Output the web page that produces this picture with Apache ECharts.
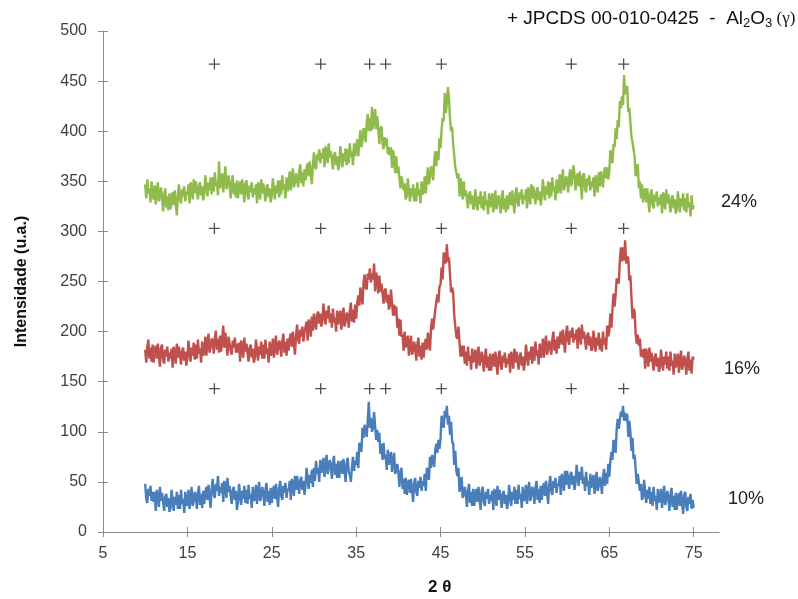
<!DOCTYPE html>
<html>
<head>
<meta charset="utf-8">
<script src="https://cdn.jsdelivr.net/npm/echarts@6/dist/echarts.min.js"></script>
<style>html,body{margin:0;padding:0;background:#fff;}#chart{width:798px;height:599px;}</style>
</head>
<body>
<div id="chart"></div>
<script>
// 2θ sampling of the patterns (degrees): 10.000, 10.125, ... 75.000
const angleStart = 10;
const angleStep = 0.125;

// x axis ticks
const xTicks = [5, 15, 25, 35, 45, 55, 65, 75];

// Intensity (u.a.), one row of 8 samples per degree (10 ... 74), then 75
const series24 = [
347,333,352,338,343,329,350,336, 332,346,327,339,349,330,335,344, 333,320,336,343,324,335,321,338,
322,334,339,326,341,329,316,337, 347,332,328,342,335,345,330,339, 337,347,328,349,344,332,352,338,
350,341,332,346,349,336,345,331, 338,356,345,335,349,341,354,337, 354,340,359,345,350,336,370,343,
344,358,339,351,365,342,347,356, 346,333,349,356,337,348,334,351, 333,345,350,337,352,340,329,348,
351,336,332,346,339,349,334,343, 337,347,328,349,344,332,352,338, 348,339,330,344,347,334,343,329,
335,353,342,332,346,338,351,334, 351,337,356,342,347,333,354,340, 346,360,341,353,363,344,349,358,
357,344,360,367,348,359,345,362, 351,363,368,355,370,358,347,366, 379,365,362,377,371,382,368,378,
373,383,364,385,380,368,388,374, 380,371,362,376,379,366,375,361, 367,385,374,364,378,370,383,366,
382,368,388,374,380,366,388,375, 376,392,375,389,401,384,391,403, 400,389,408,417,400,413,400,424,
402,413,422,402,415,401,387,403, 405,388,382,394,385,393,377,384, 376,384,363,381,373,358,375,358,
365,354,343,355,356,341,348,332, 336,353,341,330,343,335,347,330, 343,330,349,336,342,328,350,337,
340,355,338,352,364,347,354,365, 361,351,370,380,365,380,371,393, 383,401,413,410,438,418,428,444,
433,412,400,404,387,387,364,365, 353,358,335,353,346,332,350,335, 341,332,323,337,340,327,336,322,
324,342,331,321,335,327,340,323, 335,321,340,326,331,317,338,324, 324,338,319,331,341,322,327,336,
331,318,334,341,322,333,319,336, 322,334,339,326,341,329,318,337, 344,329,325,339,332,342,327,336,
332,342,323,344,339,327,347,333, 345,336,327,341,344,331,340,326, 334,352,341,331,345,337,350,333,
349,335,354,340,345,331,352,338, 343,357,338,350,362,341,346,355, 352,339,355,362,345,354,366,357,
341,353,358,345,360,348,332,356, 358,343,339,353,346,356,341,350, 344,354,335,356,351,339,359,345,
360,352,344,359,364,353,364,352, 360,381,374,368,387,384,403,392, 411,404,430,423,435,426,456,437,
436,445,419,423,423,394,389,389, 375,355,365,367,343,350,333,347, 329,339,343,329,343,330,319,337,
342,327,323,337,330,340,325,334, 327,337,318,339,334,322,342,328, 337,328,319,333,336,323,332,318,
322,340,329,319,333,325,338,321, 333,319,338,324,329,315,336,322,
326
];
const series16 = [
182,169,185,192,173,184,170,187, 169,181,186,173,188,176,165,184, 187,172,168,182,175,185,170,179,
173,183,164,185,180,168,188,174, 185,176,167,181,184,171,180,166, 173,191,180,170,184,176,189,172,
187,173,192,178,183,169,190,176, 181,195,176,188,198,179,184,193, 191,178,194,201,182,193,179,196,
180,192,206,184,199,187,176,195, 196,181,177,191,184,194,179,188, 179,189,170,191,186,174,194,180,
188,179,170,184,187,174,183,169, 174,192,181,171,185,177,190,173, 187,173,192,178,183,169,190,176,
179,193,174,186,196,177,182,191, 188,175,191,198,179,190,176,193, 181,193,198,185,200,188,177,196,
207,192,188,202,195,205,190,199, 200,210,191,212,207,195,215,201, 218,210,202,217,220,208,218,205,
210,228,217,207,221,213,226,209, 218,204,223,209,214,200,221,207, 207,221,202,214,224,205,210,219,
216,204,221,229,210,222,209,227, 213,228,236,226,244,235,227,249, 257,244,242,258,252,263,249,258,
252,268,240,259,252,238,256,240, 248,238,228,241,243,229,237,222, 226,242,229,216,227,216,225,204,
213,196,212,195,197,181,200,184, 183,196,176,187,196,177,181,190, 184,171,187,194,175,186,172,189,
174,187,193,182,199,189,181,204, 213,202,203,222,221,237,229,245, 247,264,252,279,278,268,287,270,
274,257,239,244,238,216,217,195, 193,205,189,175,186,175,186,168, 180,166,185,171,176,162,183,169,
168,182,163,175,185,166,171,180, 173,160,176,183,164,175,161,178, 161,173,178,165,180,168,157,176,
181,166,162,176,169,179,164,173, 168,178,159,180,175,163,183,169, 180,171,162,176,179,166,175,161,
169,187,176,166,180,172,185,168, 185,171,190,176,181,167,188,174, 179,193,174,186,196,177,182,191,
190,177,193,200,181,192,178,195, 183,195,200,187,202,190,179,198, 206,191,187,201,194,204,189,198,
192,202,183,204,199,187,207,193, 200,191,182,196,199,186,195,181, 183,201,190,180,194,186,199,182,
193,180,200,187,194,182,206,195, 200,218,204,222,238,225,237,253, 254,248,271,284,270,284,271,291,
268,275,273,251,256,234,213,223, 220,198,188,197,186,193,175,182, 174,183,163,183,177,165,184,170,
179,170,161,175,178,165,174,160, 164,182,171,161,175,167,180,163, 175,161,180,166,171,157,178,164,
164,178,159,171,181,162,167,176, 170,157,173,180,161,172,158,175,
172
];
const series10 = [
48,33,29,43,36,46,31,40, 30,40,21,42,37,25,45,31, 39,30,21,35,38,25,34,20,
24,42,31,21,35,27,40,23, 37,23,42,28,33,19,40,26, 28,42,23,35,45,26,31,40,
36,23,39,46,27,38,24,41, 28,40,45,32,47,35,24,43, 53,38,34,48,41,56,36,45,
39,49,30,51,46,34,54,40, 46,37,28,42,45,32,41,22, 30,48,37,27,41,33,46,29,
42,28,47,33,38,24,45,31, 33,47,28,40,50,31,36,45, 39,26,42,49,30,41,27,44,
29,41,46,33,48,36,25,44, 51,36,32,46,39,49,34,43, 41,51,32,53,48,36,56,42,
56,47,38,52,55,42,51,37, 46,64,53,43,57,49,62,45, 64,51,71,58,64,50,72,59,
60,74,55,67,77,58,63,72, 66,53,69,76,57,68,54,71, 54,66,71,58,73,61,50,69,
74,60,57,50,65,75,61,71, 67,80,64,89,88,80,104,94, 107,101,95,111,130,104,114,100,
104,120,106,92,102,90,99,78, 88,72,89,73,77,62,82,67, 67,80,60,71,79,58,61,68,
60,45,59,64,43,53,38,54, 37,48,52,39,53,41,30,49, 54,40,36,51,44,55,41,51,
46,58,41,64,61,52,75,64, 77,71,65,82,88,79,92,83, 93,116,110,104,121,114,126,107,
116,97,110,90,88,67,81,61, 56,64,40,48,55,34,37,45, 38,25,41,48,29,40,26,43,
26,38,43,30,45,33,22,41, 45,30,26,40,33,43,28,37, 31,41,22,43,38,26,46,32,
42,33,24,38,41,28,37,23, 29,47,36,26,40,32,45,28, 42,28,47,33,38,24,45,31,
33,47,28,40,50,31,36,45, 41,28,44,51,32,43,29,46, 32,44,49,36,51,39,28,47,
56,41,37,51,44,54,39,48, 46,56,37,58,53,41,61,47, 61,52,43,57,60,47,56,42,
49,67,56,46,60,52,65,48, 55,41,60,46,51,37,58,44, 43,57,38,50,60,41,46,55,
50,38,55,63,46,59,48,68, 55,71,80,72,92,85,79,103, 113,103,103,120,115,126,111,119,
111,118,95,111,100,81,94,73, 77,62,48,58,57,41,48,32, 35,52,40,29,42,33,45,28,
40,26,45,31,36,22,43,29, 29,43,24,36,46,27,32,41, 34,21,37,44,25,36,22,39,
22,34,39,26,41,29,18,37, 40,25,21,35,28,38,23,32,
24
];

// JCPDS 00-010-0425 gamma-Al2O3 reflections (2θ) and the marker rows (intensity)
const refPeaks = [18.2, 30.8, 36.6, 38.5, 45.1, 60.5, 66.7];
const markerRows = [467, 303, 143];

const seriesLabels = ['24%', '16%', '10%'];

const toPairs = arr => arr.map((v, i) => [angleStart + i * angleStep, v]);
const markerData = [];
markerRows.forEach(r => refPeaks.forEach(p => markerData.push([p, r])));

const chart = echarts.init(document.getElementById('chart'), null, {renderer: 'canvas'});
const axisColor = '#8c8c8c';
const labelColor = '#404040';
const font = 'Liberation Sans, Arial, sans-serif';
const plusPath = 'path://M4.4,0h1.2v4.4h4.4v1.2h-4.4v4.4h-1.2v-4.4h-4.4v-1.2h4.4z';

chart.setOption({
  backgroundColor: '#ffffff',
  animation: false,
  grid: {left: 103, right: 79, top: 31, bottom: 67},
  xAxis: [{
    type: 'value', min: 5, max: 78, interval: 10,
    axisLine: {show: true, lineStyle: {color: axisColor, width: 1}},
    axisTick: {show: true, inside: false, length: 5, lineStyle: {color: axisColor}, customValues: xTicks},
    axisLabel: {customValues: xTicks, color: labelColor, fontSize: 16, fontFamily: font, margin: 14},
    splitLine: {show: false}
  }, {
    type: 'value', min: 5, max: 78, position: 'bottom',
    axisLine: {show: false},
    axisTick: {show: true, inside: true, length: 5, lineStyle: {color: axisColor}, customValues: xTicks},
    axisLabel: {show: false},
    splitLine: {show: false}
  }],
  yAxis: [{
    type: 'value', min: 0, max: 500, interval: 50,
    name: 'Intensidade (u.a.)', nameLocation: 'middle', nameGap: 73,
    nameTextStyle: {fontSize: 16, fontWeight: 'bold', color: '#111', fontFamily: font},
    axisLine: {show: true, lineStyle: {color: axisColor, width: 1}},
    axisTick: {show: true, inside: false, length: 5, lineStyle: {color: axisColor}},
    axisLabel: {color: labelColor, fontSize: 16, fontFamily: font, margin: 16},
    splitLine: {show: false}
  }, {
    type: 'value', min: 0, max: 500, interval: 50, position: 'left',
    axisLine: {show: false},
    axisTick: {show: true, inside: true, length: 5, lineStyle: {color: axisColor}},
    axisLabel: {show: false},
    splitLine: {show: false}
  }],
  series: [
    {name: seriesLabels[0], type: 'line', data: toPairs(series24), showSymbol: false, lineStyle: {color: '#8fba4c', width: 2.4}, itemStyle: {color: '#8fba4c'}},
    {name: seriesLabels[1], type: 'line', data: toPairs(series16), showSymbol: false, lineStyle: {color: '#c0504d', width: 2.4}, itemStyle: {color: '#c0504d'}},
    {name: seriesLabels[2], type: 'line', data: toPairs(series10), showSymbol: false, lineStyle: {color: '#4a7ebb', width: 2.4}, itemStyle: {color: '#4a7ebb'}},
    {name: 'JCPDS', type: 'scatter', data: markerData, symbol: plusPath, symbolSize: 11, itemStyle: {color: '#222'}, silent: true}
  ],
  graphic: [
    {type: 'text', left: 507, top: 9, style: {
      text: '{a|+ JPCDS 00-010-0425  -  Al}{s|2}{a|O}{s|3}{g| (γ)}',
      rich: {
        a: {fontSize: 19, fill: '#111', fontFamily: font},
        s: {fontSize: 13, fill: '#111', fontFamily: font, padding: [9, 0, 0, 0]},
        g: {fontSize: 17, fill: '#111', fontFamily: 'Liberation Serif, Times New Roman, serif'}
      }
    }},
    {type: 'text', left: 721, top: 193, style: {text: seriesLabels[0], fontSize: 18, fill: '#222', fontFamily: font}},
    {type: 'text', left: 724, top: 360, style: {text: seriesLabels[1], fontSize: 18, fill: '#222', fontFamily: font}},
    {type: 'text', left: 728, top: 490, style: {text: seriesLabels[2], fontSize: 18, fill: '#222', fontFamily: font}},
    {type: 'text', left: 428, top: 579, style: {text: '2 θ', fontSize: 17, fontWeight: 'bold', fill: '#111', fontFamily: font}}
  ]
});
</script>
</body>
</html>
